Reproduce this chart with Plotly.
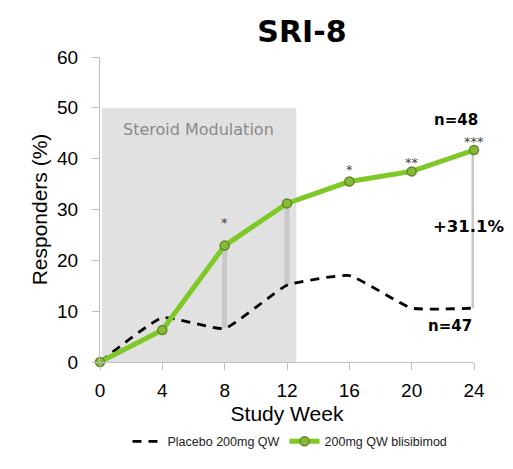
import plotly.graph_objects as go

weeks = [0, 4, 8, 12, 16, 20, 24]
placebo = [0, 8.7, 6.6, 15.1, 17.0, 10.6, 10.6]
blisibimod = [0, 6.3, 22.9, 31.2, 35.5, 37.5, 41.7]
gap_weeks = [8, 12, 24]
star_weeks = [8, 16, 20, 24]
star_texts = ["*", "*", "**", "***"]
x_ticks = [0, 4, 8, 12, 16, 20, 24]
y_ticks = [0, 10, 20, 30, 40, 50, 60]

fig = go.Figure()

# steroid modulation shaded region
fig.add_shape(type="rect", x0=0.12, x1=12.6, y0=0, y1=50, xref="x", yref="y",
              fillcolor="#e1e1e1", line=dict(width=0), layer="below")
fig.add_annotation(x=6.35, y=45.8, text="Steroid Modulation", showarrow=False,
                   font=dict(family="DejaVu Sans", size=16, color="#8a8a8a"))

# gray drop lines
for w in gap_weeks:
    i = weeks.index(w)
    fig.add_shape(type="line", x0=w, x1=w, y0=placebo[i], y1=blisibimod[i],
                  xref="x", yref="y", line=dict(color="#c8c8c8", width=5), layer="below")

fig.add_trace(go.Scatter(x=weeks, y=placebo, mode="lines", name="Placebo 200mg QW",
                         line=dict(color="black", width=2.8, dash="9px,7px", shape="spline", smoothing=0.4),
                         cliponaxis=False))
fig.add_trace(go.Scatter(x=weeks, y=blisibimod, mode="lines+markers", name="200mg QW blisibimod",
                         line=dict(color="#7ec828", width=5),
                         marker=dict(size=9, color="#8ab83a", line=dict(color="#5f8a22", width=1.5)),
                         cliponaxis=False))

star_shifts = [23, 12, 9, 9]
for w, s, sh in zip(star_weeks, star_texts, star_shifts):
    i = weeks.index(w)
    fig.add_annotation(x=w, y=blisibimod[i], text=s, showarrow=False, yshift=sh,
                       font=dict(family="DejaVu Sans", size=13, color="#444444"))

fig.add_annotation(x=24, y=47.6, text="<b>n=48</b>", showarrow=False, xshift=-18,
                   font=dict(family="DejaVu Sans", size=15, color="black"))
fig.add_annotation(x=24, y=7.1, text="<b>n=47</b>", showarrow=False, xshift=-24,
                   font=dict(family="DejaVu Sans", size=15, color="black"))
fig.add_annotation(x=24, y=26.6, text="<b>+31.1%</b>", showarrow=False, xshift=-5,
                   font=dict(family="DejaVu Sans", size=16.5, color="black"))

fig.update_layout(
    width=513, height=469,
    margin=dict(l=92, r=47, t=49, b=115),
    paper_bgcolor="white", plot_bgcolor="white",
    title=dict(text="<b>SRI-8</b>", x=0.573, xanchor="center", y=0.949, yanchor="middle",
               font=dict(family="DejaVu Sans", size=30, color="black")),
    showlegend=True,
    legend=dict(orientation="h", x=0.508, xanchor="center", y=-0.212, yanchor="top",
                font=dict(family="Liberation Sans", size=12.5, color="#222222"),
                itemwidth=30, tracegroupgap=0),
    font=dict(family="Liberation Sans"),
)
fig.update_xaxes(range=[0, 24], tickvals=x_ticks, showgrid=False, zeroline=False,
                 showline=True, linecolor="#bfbfbf", linewidth=1,
                 ticks="outside", ticklen=7, tickcolor="#bfbfbf", ticklabelstandoff=4,
                 tickfont=dict(family="Liberation Sans", size=19, color="black"),
                 title=dict(text="Study Week", font=dict(family="Liberation Sans", size=21, color="black"), standoff=6))
fig.update_yaxes(range=[0, 60], tickvals=y_ticks, showgrid=False, zeroline=False,
                 showline=True, linecolor="#bfbfbf", linewidth=1,
                 ticks="outside", ticklen=7, tickcolor="#bfbfbf", ticklabelstandoff=10,
                 tickfont=dict(family="Liberation Sans", size=19, color="black"),
                 title=dict(text="Responders (%)", font=dict(family="Liberation Sans", size=21, color="black"), standoff=3))

fig.write_html("out.html")
